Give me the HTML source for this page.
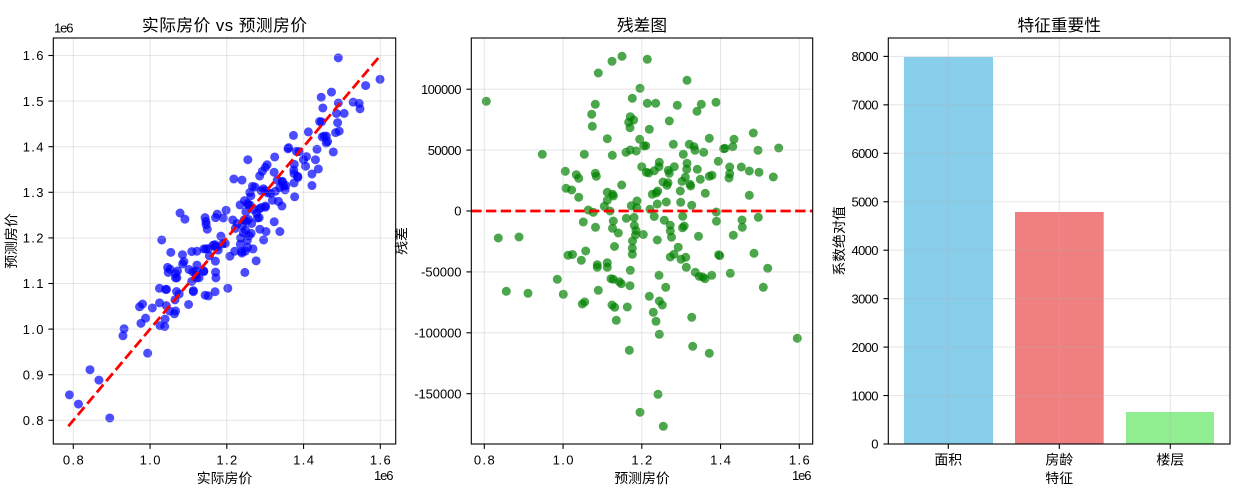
<!DOCTYPE html>
<html><head><meta charset="utf-8"><style>
html,body{margin:0;padding:0;background:#fff;}
svg{display:block;}
.pt path{fill:none;stroke-linecap:round;stroke-width:9px;vector-effect:non-scaling-stroke;}
.tk{font-family:"Liberation Sans","Noto Sans CJK SC",sans-serif;font-size:13px;fill:#000;}
.cj{font-family:"Liberation Sans","Noto Sans CJK SC",sans-serif;font-size:13.9px;fill:#000;}
.ti{font-family:"Liberation Sans","Noto Sans CJK SC",sans-serif;font-size:16.7px;fill:#000;}
.g line{stroke:#b0b0b0;stroke-opacity:0.3;stroke-width:1.1;}
.tm line{stroke:#000;stroke-width:1.1;}
</style></head><body>
<svg width="1242" height="500" viewBox="0 0 1242 500" xmlns="http://www.w3.org/2000/svg">
<rect x="0" y="0" width="1242" height="500" fill="#fff"/>

<!-- ================= Plot 1 ================= -->
<g class="pt" stroke="#0000ff" stroke-opacity="0.7" transform="matrix(0.97460,-1.15810,-0.31455,0,-332.33,981.17)">
<path d="M486.3 101.3h0"/><path d="M498.3 238h0"/><path d="M519 237h0"/><path d="M542.3 154.3h0"/><path d="M565.3 171.3h0"/><path d="M566 188.3h0"/><path d="M571.7 190h0"/><path d="M576.3 174.7h0"/><path d="M578.7 178.3h0"/><path d="M578.7 197.3h0"/><path d="M583.3 222h0"/><path d="M584.3 154.3h0"/><path d="M585.7 251h0"/><path d="M588.3 210h0"/><path d="M591.7 114.3h0"/><path d="M592.3 126.3h0"/><path d="M593.3 212.3h0"/><path d="M595.3 104.3h0"/><path d="M595.3 173.3h0"/><path d="M596.3 176.3h0"/><path d="M595.5 227.3h0"/><path d="M598.3 73h0"/><path d="M604.3 206.3h0"/><path d="M607.3 138.7h0"/><path d="M607.3 192.3h0"/><path d="M607.3 200.3h0"/><path d="M610 211h0"/><path d="M612 61.3h0"/><path d="M612.3 155.3h0"/><path d="M612.7 194.3h0"/><path d="M613.3 196h0"/><path d="M612.5 228.3h0"/><path d="M613.3 221h0"/><path d="M614.5 246.5h0"/><path d="M618.3 233h0"/><path d="M622 56.3h0"/><path d="M621.7 185h0"/><path d="M626 152.3h0"/><path d="M626.3 218.3h0"/><path d="M628.7 122.3h0"/><path d="M630.3 116.7h0"/><path d="M630 127.7h0"/><path d="M632.3 98.3h0"/><path d="M633.7 120h0"/><path d="M631.3 205.7h0"/><path d="M630.3 150h0"/><path d="M636.3 151h0"/><path d="M634 217.5h0"/><path d="M634.3 225.5h0"/><path d="M636 230.5h0"/><path d="M635.5 235h0"/><path d="M637 201h0"/><path d="M636.7 207.7h0"/><path d="M639.7 139.3h0"/><path d="M640 88.3h0"/><path d="M632.5 241h0"/><path d="M632.3 248.3h0"/><path d="M643.3 234.5h0"/><path d="M641.7 166.7h0"/><path d="M643.7 146h0"/><path d="M645.7 145.7h0"/><path d="M646.3 172.3h0"/><path d="M648.7 173h0"/><path d="M647.3 59.3h0"/><path d="M647.3 103.3h0"/><path d="M649.3 129.3h0"/><path d="M650 209.3h0"/><path d="M652.3 194.3h0"/><path d="M654.3 170.7h0"/><path d="M654.2 216.5h0"/><path d="M655.7 103.3h0"/><path d="M656.3 193h0"/><path d="M657.3 204h0"/><path d="M657.7 191h0"/><path d="M659 166.7h0"/><path d="M659.3 162.3h0"/><path d="M657.3 240h0"/><path d="M663 182h0"/><path d="M664.3 220.2h0"/><path d="M666.3 202h0"/><path d="M667 185.3h0"/><path d="M668 182.7h0"/><path d="M668.3 170.3h0"/><path d="M669.3 121h0"/><path d="M669.3 173.3h0"/><path d="M670.2 225.2h0"/><path d="M670.3 231h0"/><path d="M671.5 237.2h0"/><path d="M673.3 144.3h0"/><path d="M674.3 166.7h0"/><path d="M677.3 105.3h0"/><path d="M678.2 247.2h0"/><path d="M680.3 191h0"/><path d="M680.7 202.3h0"/><path d="M682 181.3h0"/><path d="M683.3 154.3h0"/><path d="M682.7 216.3h0"/><path d="M682.5 227.8h0"/><path d="M684.2 226h0"/><path d="M685.3 177.3h0"/><path d="M687 163.3h0"/><path d="M686.7 169.3h0"/><path d="M687 80.3h0"/><path d="M689.3 144.3h0"/><path d="M690 184.3h0"/><path d="M690.7 186h0"/><path d="M691.7 205.3h0"/><path d="M694 146.7h0"/><path d="M695 150.3h0"/><path d="M697 111.3h0"/><path d="M697.3 169.3h0"/><path d="M700.3 179.3h0"/><path d="M701.3 104.3h0"/><path d="M698.5 236.3h0"/><path d="M703.7 152.3h0"/><path d="M705.3 193.3h0"/><path d="M709.3 138.3h0"/><path d="M709.3 176.3h0"/><path d="M712 175.3h0"/><path d="M716 102.3h0"/><path d="M716.3 212h0"/><path d="M716.5 221.2h0"/><path d="M718.3 161.3h0"/><path d="M723.7 148.7h0"/><path d="M725 148.3h0"/><path d="M729 178h0"/><path d="M729.7 173.7h0"/><path d="M729.7 167h0"/><path d="M732.7 146.7h0"/><path d="M734 139.3h0"/><path d="M733.3 235.2h0"/><path d="M741.3 167h0"/><path d="M742 220h0"/><path d="M742.3 227.3h0"/><path d="M749.3 171h0"/><path d="M749.3 195.3h0"/><path d="M753.3 133h0"/><path d="M758 150.3h0"/><path d="M759 172.3h0"/><path d="M758.3 217.3h0"/><path d="M773.3 177h0"/><path d="M778.7 148h0"/>
<path d="M506.3 291.3h0"/><path d="M528 293.3h0"/><path d="M557.3 279.3h0"/><path d="M563.3 294.3h0"/><path d="M568 255.3h0"/><path d="M572.5 254.5h0"/><path d="M581.3 260.3h0"/><path d="M582.3 304h0"/><path d="M584.7 302h0"/><path d="M597.3 264.7h0"/><path d="M597.3 267.3h0"/><path d="M598.3 290.3h0"/><path d="M607.3 262.7h0"/><path d="M607.3 267.3h0"/><path d="M611 278.7h0"/><path d="M613.3 279.3h0"/><path d="M612 305h0"/><path d="M614.7 307.3h0"/><path d="M616.3 320.3h0"/><path d="M619.3 281.7h0"/><path d="M621.3 283.7h0"/><path d="M627.3 307h0"/><path d="M629.3 350.3h0"/><path d="M630.3 270.3h0"/><path d="M630 285.7h0"/><path d="M632.3 254.3h0"/><path d="M640 412.3h0"/><path d="M649.3 296.3h0"/><path d="M653.3 312.3h0"/><path d="M656 321.3h0"/><path d="M659 275.3h0"/><path d="M659.3 301h0"/><path d="M659.3 334.3h0"/><path d="M662.3 305h0"/><path d="M658 394.3h0"/><path d="M663.3 426.3h0"/><path d="M665.7 287.3h0"/><path d="M670.3 257h0"/><path d="M674 254.3h0"/><path d="M681 259.3h0"/><path d="M685.7 257.3h0"/><path d="M686.3 267.3h0"/><path d="M691.7 317.3h0"/><path d="M692.7 346.3h0"/><path d="M695.3 272.3h0"/><path d="M699.3 276.3h0"/><path d="M702.7 277h0"/><path d="M705 278.7h0"/><path d="M709.3 353.3h0"/><path d="M711.7 275.3h0"/><path d="M718.7 254.7h0"/><path d="M719.7 255.7h0"/><path d="M730.3 273.3h0"/><path d="M754 253.3h0"/><path d="M763.3 287.3h0"/><path d="M767.7 268.3h0"/><path d="M797.3 338.3h0"/>
</g>

<g class="g">
<line x1="73.3" y1="38" x2="73.3" y2="444"/><line x1="150.05" y1="38" x2="150.05" y2="444"/><line x1="226.8" y1="38" x2="226.8" y2="444"/><line x1="303.55" y1="38" x2="303.55" y2="444"/><line x1="380.3" y1="38" x2="380.3" y2="444"/>
<line x1="53.3" y1="420.3" x2="395.7" y2="420.3"/><line x1="53.3" y1="374.7" x2="395.7" y2="374.7"/><line x1="53.3" y1="329.1" x2="395.7" y2="329.1"/><line x1="53.3" y1="283.5" x2="395.7" y2="283.5"/><line x1="53.3" y1="237.9" x2="395.7" y2="237.9"/><line x1="53.3" y1="192.3" x2="395.7" y2="192.3"/><line x1="53.3" y1="146.7" x2="395.7" y2="146.7"/><line x1="53.3" y1="101.1" x2="395.7" y2="101.1"/><line x1="53.3" y1="55.5" x2="395.7" y2="55.5"/>
</g>
<line x1="68.31" y1="426.23" x2="379.15" y2="56.87" stroke="#ff0000" stroke-width="2.78" stroke-dasharray="10.28 4.44"/>
<rect x="53.3" y="38" width="342.4" height="406" fill="none" stroke="#000" stroke-width="1.1"/>
<g class="tm">
<line x1="73.3" y1="444" x2="73.3" y2="448.9"/><line x1="150.05" y1="444" x2="150.05" y2="448.9"/><line x1="226.8" y1="444" x2="226.8" y2="448.9"/><line x1="303.55" y1="444" x2="303.55" y2="448.9"/><line x1="380.3" y1="444" x2="380.3" y2="448.9"/>
<line x1="48.4" y1="420.3" x2="53.3" y2="420.3"/><line x1="48.4" y1="374.7" x2="53.3" y2="374.7"/><line x1="48.4" y1="329.1" x2="53.3" y2="329.1"/><line x1="48.4" y1="283.5" x2="53.3" y2="283.5"/><line x1="48.4" y1="237.9" x2="53.3" y2="237.9"/><line x1="48.4" y1="192.3" x2="53.3" y2="192.3"/><line x1="48.4" y1="146.7" x2="53.3" y2="146.7"/><line x1="48.4" y1="101.1" x2="53.3" y2="101.1"/><line x1="48.4" y1="55.5" x2="53.3" y2="55.5"/>
</g>
<g class="tk" text-anchor="middle">
<text x="73.3" y="464.5" textLength="20.8" lengthAdjust="spacing">0.8</text>
<text x="150.05" y="464.5" textLength="20.8" lengthAdjust="spacing">1.0</text>
<text x="226.8" y="464.5" textLength="20.8" lengthAdjust="spacing">1.2</text>
<text x="303.55" y="464.5" textLength="20.8" lengthAdjust="spacing">1.4</text>
<text x="380.3" y="464.5" textLength="20.8" lengthAdjust="spacing">1.6</text>
</g>
<g class="tk" text-anchor="end">
<text x="43.5" y="425" textLength="20.8" lengthAdjust="spacing">0.8</text>
<text x="43.5" y="379.4" textLength="20.8" lengthAdjust="spacing">0.9</text>
<text x="43.5" y="333.8" textLength="20.8" lengthAdjust="spacing">1.0</text>
<text x="43.5" y="288.2" textLength="20.8" lengthAdjust="spacing">1.1</text>
<text x="43.5" y="242.6" textLength="20.8" lengthAdjust="spacing">1.2</text>
<text x="43.5" y="197" textLength="20.8" lengthAdjust="spacing">1.3</text>
<text x="43.5" y="151.4" textLength="20.8" lengthAdjust="spacing">1.4</text>
<text x="43.5" y="105.8" textLength="20.8" lengthAdjust="spacing">1.5</text>
<text x="43.5" y="60.2" textLength="20.8" lengthAdjust="spacing">1.6</text>
</g>
<text class="tk" x="54" y="32.5" textLength="19.5" lengthAdjust="spacing">1e6</text>
<text class="tk" x="393.5" y="480" text-anchor="end" textLength="19.5" lengthAdjust="spacing">1e6</text>
<text class="ti" x="224.5" y="31" text-anchor="middle" textLength="165" lengthAdjust="spacing">实际房价 vs 预测房价</text>
<text class="cj" x="224.5" y="483" text-anchor="middle">实际房价</text>
<text class="cj" transform="translate(16,241) rotate(-90)" text-anchor="middle">预测房价</text>

<!-- ================= Plot 2 ================= -->
<g class="pt" stroke="#008000" stroke-opacity="0.7">
<path d="M486.3 101.3h0"/><path d="M498.3 238h0"/><path d="M519 237h0"/><path d="M542.3 154.3h0"/><path d="M565.3 171.3h0"/><path d="M566 188.3h0"/><path d="M571.7 190h0"/><path d="M576.3 174.7h0"/><path d="M578.7 178.3h0"/><path d="M578.7 197.3h0"/><path d="M583.3 222h0"/><path d="M584.3 154.3h0"/><path d="M585.7 251h0"/><path d="M588.3 210h0"/><path d="M591.7 114.3h0"/><path d="M592.3 126.3h0"/><path d="M593.3 212.3h0"/><path d="M595.3 104.3h0"/><path d="M595.3 173.3h0"/><path d="M596.3 176.3h0"/><path d="M595.5 227.3h0"/><path d="M598.3 73h0"/><path d="M604.3 206.3h0"/><path d="M607.3 138.7h0"/><path d="M607.3 192.3h0"/><path d="M607.3 200.3h0"/><path d="M610 211h0"/><path d="M612 61.3h0"/><path d="M612.3 155.3h0"/><path d="M612.7 194.3h0"/><path d="M613.3 196h0"/><path d="M612.5 228.3h0"/><path d="M613.3 221h0"/><path d="M614.5 246.5h0"/><path d="M618.3 233h0"/><path d="M622 56.3h0"/><path d="M621.7 185h0"/><path d="M626 152.3h0"/><path d="M626.3 218.3h0"/><path d="M628.7 122.3h0"/><path d="M630.3 116.7h0"/><path d="M630 127.7h0"/><path d="M632.3 98.3h0"/><path d="M633.7 120h0"/><path d="M631.3 205.7h0"/><path d="M630.3 150h0"/><path d="M636.3 151h0"/><path d="M634 217.5h0"/><path d="M634.3 225.5h0"/><path d="M636 230.5h0"/><path d="M635.5 235h0"/><path d="M637 201h0"/><path d="M636.7 207.7h0"/><path d="M639.7 139.3h0"/><path d="M640 88.3h0"/><path d="M632.5 241h0"/><path d="M632.3 248.3h0"/><path d="M643.3 234.5h0"/><path d="M641.7 166.7h0"/><path d="M643.7 146h0"/><path d="M645.7 145.7h0"/><path d="M646.3 172.3h0"/><path d="M648.7 173h0"/><path d="M647.3 59.3h0"/><path d="M647.3 103.3h0"/><path d="M649.3 129.3h0"/><path d="M650 209.3h0"/><path d="M652.3 194.3h0"/><path d="M654.3 170.7h0"/><path d="M654.2 216.5h0"/><path d="M655.7 103.3h0"/><path d="M656.3 193h0"/><path d="M657.3 204h0"/><path d="M657.7 191h0"/><path d="M659 166.7h0"/><path d="M659.3 162.3h0"/><path d="M657.3 240h0"/><path d="M663 182h0"/><path d="M664.3 220.2h0"/><path d="M666.3 202h0"/><path d="M667 185.3h0"/><path d="M668 182.7h0"/><path d="M668.3 170.3h0"/><path d="M669.3 121h0"/><path d="M669.3 173.3h0"/><path d="M670.2 225.2h0"/><path d="M670.3 231h0"/><path d="M671.5 237.2h0"/><path d="M673.3 144.3h0"/><path d="M674.3 166.7h0"/><path d="M677.3 105.3h0"/><path d="M678.2 247.2h0"/><path d="M680.3 191h0"/><path d="M680.7 202.3h0"/><path d="M682 181.3h0"/><path d="M683.3 154.3h0"/><path d="M682.7 216.3h0"/><path d="M682.5 227.8h0"/><path d="M684.2 226h0"/><path d="M685.3 177.3h0"/><path d="M687 163.3h0"/><path d="M686.7 169.3h0"/><path d="M687 80.3h0"/><path d="M689.3 144.3h0"/><path d="M690 184.3h0"/><path d="M690.7 186h0"/><path d="M691.7 205.3h0"/><path d="M694 146.7h0"/><path d="M695 150.3h0"/><path d="M697 111.3h0"/><path d="M697.3 169.3h0"/><path d="M700.3 179.3h0"/><path d="M701.3 104.3h0"/><path d="M698.5 236.3h0"/><path d="M703.7 152.3h0"/><path d="M705.3 193.3h0"/><path d="M709.3 138.3h0"/><path d="M709.3 176.3h0"/><path d="M712 175.3h0"/><path d="M716 102.3h0"/><path d="M716.3 212h0"/><path d="M716.5 221.2h0"/><path d="M718.3 161.3h0"/><path d="M723.7 148.7h0"/><path d="M725 148.3h0"/><path d="M729 178h0"/><path d="M729.7 173.7h0"/><path d="M729.7 167h0"/><path d="M732.7 146.7h0"/><path d="M734 139.3h0"/><path d="M733.3 235.2h0"/><path d="M741.3 167h0"/><path d="M742 220h0"/><path d="M742.3 227.3h0"/><path d="M749.3 171h0"/><path d="M749.3 195.3h0"/><path d="M753.3 133h0"/><path d="M758 150.3h0"/><path d="M759 172.3h0"/><path d="M758.3 217.3h0"/><path d="M773.3 177h0"/><path d="M778.7 148h0"/>
<path d="M506.3 291.3h0"/><path d="M528 293.3h0"/><path d="M557.3 279.3h0"/><path d="M563.3 294.3h0"/><path d="M568 255.3h0"/><path d="M572.5 254.5h0"/><path d="M581.3 260.3h0"/><path d="M582.3 304h0"/><path d="M584.7 302h0"/><path d="M597.3 264.7h0"/><path d="M597.3 267.3h0"/><path d="M598.3 290.3h0"/><path d="M607.3 262.7h0"/><path d="M607.3 267.3h0"/><path d="M611 278.7h0"/><path d="M613.3 279.3h0"/><path d="M612 305h0"/><path d="M614.7 307.3h0"/><path d="M616.3 320.3h0"/><path d="M619.3 281.7h0"/><path d="M621.3 283.7h0"/><path d="M627.3 307h0"/><path d="M629.3 350.3h0"/><path d="M630.3 270.3h0"/><path d="M630 285.7h0"/><path d="M632.3 254.3h0"/><path d="M640 412.3h0"/><path d="M649.3 296.3h0"/><path d="M653.3 312.3h0"/><path d="M656 321.3h0"/><path d="M659 275.3h0"/><path d="M659.3 301h0"/><path d="M659.3 334.3h0"/><path d="M662.3 305h0"/><path d="M658 394.3h0"/><path d="M663.3 426.3h0"/><path d="M665.7 287.3h0"/><path d="M670.3 257h0"/><path d="M674 254.3h0"/><path d="M681 259.3h0"/><path d="M685.7 257.3h0"/><path d="M686.3 267.3h0"/><path d="M691.7 317.3h0"/><path d="M692.7 346.3h0"/><path d="M695.3 272.3h0"/><path d="M699.3 276.3h0"/><path d="M702.7 277h0"/><path d="M705 278.7h0"/><path d="M709.3 353.3h0"/><path d="M711.7 275.3h0"/><path d="M718.7 254.7h0"/><path d="M719.7 255.7h0"/><path d="M730.3 273.3h0"/><path d="M754 253.3h0"/><path d="M763.3 287.3h0"/><path d="M767.7 268.3h0"/><path d="M797.3 338.3h0"/>
</g>
<g class="g">
<line x1="484.3" y1="38" x2="484.3" y2="444"/><line x1="563.05" y1="38" x2="563.05" y2="444"/><line x1="641.8" y1="38" x2="641.8" y2="444"/><line x1="720.55" y1="38" x2="720.55" y2="444"/><line x1="799.3" y1="38" x2="799.3" y2="444"/>
<line x1="471.3" y1="89.2" x2="812.7" y2="89.2"/><line x1="471.3" y1="150.1" x2="812.7" y2="150.1"/><line x1="471.3" y1="211" x2="812.7" y2="211"/><line x1="471.3" y1="271.9" x2="812.7" y2="271.9"/><line x1="471.3" y1="332.8" x2="812.7" y2="332.8"/><line x1="471.3" y1="393.7" x2="812.7" y2="393.7"/>
</g>
<line x1="471.3" y1="211" x2="812.7" y2="211" stroke="#ff0000" stroke-width="2.78" stroke-dasharray="10.28 4.44"/>
<rect x="471.3" y="38" width="341.4" height="406" fill="none" stroke="#000" stroke-width="1.1"/>
<g class="tm">
<line x1="484.3" y1="444" x2="484.3" y2="448.9"/><line x1="563.05" y1="444" x2="563.05" y2="448.9"/><line x1="641.8" y1="444" x2="641.8" y2="448.9"/><line x1="720.55" y1="444" x2="720.55" y2="448.9"/><line x1="799.3" y1="444" x2="799.3" y2="448.9"/>
<line x1="466.4" y1="89.2" x2="471.3" y2="89.2"/><line x1="466.4" y1="150.1" x2="471.3" y2="150.1"/><line x1="466.4" y1="211" x2="471.3" y2="211"/><line x1="466.4" y1="271.9" x2="471.3" y2="271.9"/><line x1="466.4" y1="332.8" x2="471.3" y2="332.8"/><line x1="466.4" y1="393.7" x2="471.3" y2="393.7"/>
</g>
<g class="tk" text-anchor="middle">
<text x="484.3" y="464.5" textLength="20.8" lengthAdjust="spacing">0.8</text>
<text x="563.05" y="464.5" textLength="20.8" lengthAdjust="spacing">1.0</text>
<text x="641.8" y="464.5" textLength="20.8" lengthAdjust="spacing">1.2</text>
<text x="720.55" y="464.5" textLength="20.8" lengthAdjust="spacing">1.4</text>
<text x="799.3" y="464.5" textLength="20.8" lengthAdjust="spacing">1.6</text>
</g>
<g class="tk" text-anchor="end">
<text x="461.5" y="93.9" textLength="40.5" lengthAdjust="spacing">100000</text>
<text x="461.5" y="154.8" textLength="33.8" lengthAdjust="spacing">50000</text>
<text x="461.5" y="215.7">0</text>
<text x="461.5" y="276.6" textLength="40.5" lengthAdjust="spacing">-50000</text>
<text x="461.5" y="337.5" textLength="47.3" lengthAdjust="spacing">-100000</text>
<text x="461.5" y="398.4" textLength="47.3" lengthAdjust="spacing">-150000</text>
</g>
<text class="tk" x="811.5" y="480" text-anchor="end" textLength="19.5" lengthAdjust="spacing">1e6</text>
<text class="ti" x="642" y="31" text-anchor="middle">残差图</text>
<text class="cj" x="642" y="483" text-anchor="middle">预测房价</text>
<text class="cj" transform="translate(406.5,241) rotate(-90)" text-anchor="middle">残差</text>

<!-- ================= Plot 3 ================= -->
<rect x="904" y="57" width="89" height="387" fill="#87ceeb"/>
<rect x="1015" y="212" width="88.7" height="232" fill="#f08080"/>
<rect x="1126" y="412" width="88" height="32" fill="#90ee90"/>
<g class="g">
<line x1="948.3" y1="38" x2="948.3" y2="444"/><line x1="1059.3" y1="38" x2="1059.3" y2="444"/><line x1="1170.3" y1="38" x2="1170.3" y2="444"/>
<line x1="888.3" y1="395.55" x2="1230" y2="395.55"/><line x1="888.3" y1="347.1" x2="1230" y2="347.1"/><line x1="888.3" y1="298.65" x2="1230" y2="298.65"/><line x1="888.3" y1="250.2" x2="1230" y2="250.2"/><line x1="888.3" y1="201.75" x2="1230" y2="201.75"/><line x1="888.3" y1="153.3" x2="1230" y2="153.3"/><line x1="888.3" y1="104.85" x2="1230" y2="104.85"/><line x1="888.3" y1="56.4" x2="1230" y2="56.4"/>
</g>
<rect x="888.3" y="38" width="341.7" height="406" fill="none" stroke="#000" stroke-width="1.1"/>
<g class="tm">
<line x1="948.3" y1="444" x2="948.3" y2="448.9"/><line x1="1059.3" y1="444" x2="1059.3" y2="448.9"/><line x1="1170.3" y1="444" x2="1170.3" y2="448.9"/>
<line x1="883.4" y1="444" x2="888.3" y2="444"/><line x1="883.4" y1="395.55" x2="888.3" y2="395.55"/><line x1="883.4" y1="347.1" x2="888.3" y2="347.1"/><line x1="883.4" y1="298.65" x2="888.3" y2="298.65"/><line x1="883.4" y1="250.2" x2="888.3" y2="250.2"/><line x1="883.4" y1="201.75" x2="888.3" y2="201.75"/><line x1="883.4" y1="153.3" x2="888.3" y2="153.3"/><line x1="883.4" y1="104.85" x2="888.3" y2="104.85"/><line x1="883.4" y1="56.4" x2="888.3" y2="56.4"/>
</g>
<g class="tk" text-anchor="end">
<text x="878.5" y="448.7">0</text>
<text x="878.5" y="400.25" textLength="27" lengthAdjust="spacing">1000</text>
<text x="878.5" y="351.8" textLength="27" lengthAdjust="spacing">2000</text>
<text x="878.5" y="303.35" textLength="27" lengthAdjust="spacing">3000</text>
<text x="878.5" y="254.9" textLength="27" lengthAdjust="spacing">4000</text>
<text x="878.5" y="206.45" textLength="27" lengthAdjust="spacing">5000</text>
<text x="878.5" y="158" textLength="27" lengthAdjust="spacing">6000</text>
<text x="878.5" y="109.55" textLength="27" lengthAdjust="spacing">7000</text>
<text x="878.5" y="61.1" textLength="27" lengthAdjust="spacing">8000</text>
</g>
<g class="cj" text-anchor="middle">
<text x="948.3" y="464.5">面积</text>
<text x="1059.3" y="464.5">房龄</text>
<text x="1170.3" y="464.5">楼层</text>
</g>
<text class="ti" x="1059.2" y="31" text-anchor="middle">特征重要性</text>
<text class="cj" x="1059.2" y="483" text-anchor="middle">特征</text>
<text class="cj" transform="translate(844,241) rotate(-90)" text-anchor="middle">系数绝对值</text>
</svg>
</body></html>
